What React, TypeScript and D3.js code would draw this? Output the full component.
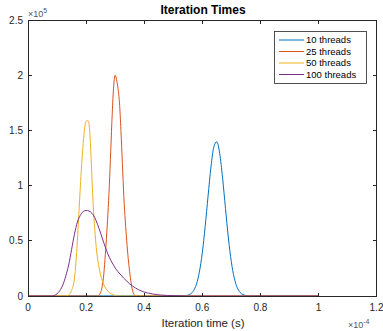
import React, { useRef, useEffect } from 'react'
import * as d3 from 'd3'

// x in units of 1e-4 s, y in units of 1e5
const seriesNames = ['10 threads', '25 threads', '50 threads', '100 threads']
const seriesColors = ['#0072BD', '#D95319', '#EDB120', '#7E2F8E']

const threads10: [number, number][] = [
  [0, 0], [0.54, 0.002], [0.56, 0.019], [0.57, 0.048], [0.58, 0.107], [0.59, 0.216],
  [0.6, 0.389], [0.61, 0.628], [0.62, 0.905], [0.63, 1.169], [0.64, 1.351], [0.65, 1.397],
  [0.66, 1.292], [0.67, 1.07], [0.68, 0.793], [0.69, 0.525], [0.7, 0.312], [0.71, 0.165],
  [0.72, 0.079], [0.73, 0.033], [0.74, 0.013], [0.76, 0.001], [1, 0]
]

const threads25: [number, number][] = [
  [0, 0], [0.24, 0], [0.25, 0.03], [0.255, 0.08], [0.26, 0.17], [0.265, 0.33], [0.27, 0.52],
  [0.275, 0.74], [0.28, 1.0], [0.285, 1.32], [0.29, 1.65], [0.295, 1.9], [0.3, 2.0],
  [0.305, 1.96], [0.31, 1.88], [0.315, 1.75], [0.32, 1.5], [0.325, 1.2], [0.33, 0.9],
  [0.335, 0.68], [0.34, 0.5], [0.345, 0.34], [0.35, 0.22], [0.355, 0.12], [0.36, 0.05],
  [0.365, 0.015], [0.37, 0], [1, 0]
]

const threads50: [number, number][] = [
  [0, 0], [0.13, 0], [0.14, 0.01], [0.15, 0.05], [0.16, 0.16], [0.165, 0.3], [0.17, 0.5],
  [0.175, 0.74], [0.18, 0.98], [0.185, 1.2], [0.19, 1.38], [0.195, 1.52], [0.2, 1.58],
  [0.205, 1.59], [0.21, 1.56], [0.215, 1.38], [0.22, 1.08], [0.225, 0.8], [0.23, 0.6],
  [0.235, 0.44], [0.24, 0.33], [0.25, 0.19], [0.26, 0.11], [0.27, 0.06], [0.28, 0.03],
  [0.29, 0.015], [0.3, 0.005], [0.31, 0], [1, 0]
]

const threads100: [number, number][] = [
  [0, 0], [0.08, 0], [0.09, 0.005], [0.1, 0.02], [0.11, 0.05], [0.12, 0.1], [0.13, 0.18],
  [0.14, 0.28], [0.15, 0.42], [0.16, 0.56], [0.17, 0.67], [0.18, 0.73], [0.19, 0.765],
  [0.2, 0.775], [0.21, 0.77], [0.22, 0.75], [0.23, 0.71], [0.24, 0.645], [0.25, 0.57],
  [0.26, 0.49], [0.27, 0.415], [0.28, 0.35], [0.29, 0.3], [0.3, 0.255], [0.31, 0.22],
  [0.32, 0.19], [0.33, 0.16], [0.34, 0.135], [0.35, 0.11], [0.36, 0.09], [0.38, 0.058],
  [0.4, 0.036], [0.43, 0.018], [0.46, 0.008], [0.5, 0.003], [0.55, 0], [1, 0]
]

const allSeries = [threads10, threads25, threads50, threads100]

const xTicks = [0, 0.2, 0.4, 0.6, 0.8, 1, 1.2]
const yTicks = [0, 0.5, 1, 1.5, 2, 2.5]

export default function App() {
  const ref = useRef<SVGSVGElement>(null)

  useEffect(() => {
    const width = 383
    const height = 331
    const left = 28, right = 376.5, top = 20, bottom = 296
    const axisColor = '#262626'
    const font = '"Liberation Sans", Arial, Helvetica, sans-serif'

    const svg = d3.select(ref.current)
    svg.selectAll('*').remove()
    svg.attr('width', width).attr('height', height)

    svg.append('rect').attr('width', width).attr('height', height).attr('fill', '#fff')

    const x = d3.scaleLinear().domain([0, 1.2]).range([left, right])
    const y = d3.scaleLinear().domain([0, 2.5]).range([bottom, top])

    // series
    const line = d3.line<[number, number]>()
      .x(d => x(d[0]))
      .y(d => y(d[1]))
      .curve(d3.curveMonotoneX)

    allSeries.forEach((s, i) => {
      svg.append('path')
        .attr('d', line(s))
        .attr('fill', 'none')
        .attr('stroke', seriesColors[i])
        .attr('stroke-width', 1)
    })

    // box + ticks
    const g = svg.append('g').attr('stroke', axisColor).attr('shape-rendering', 'crispEdges')
    g.append('rect')
      .attr('x', left).attr('y', top)
      .attr('width', right - left).attr('height', bottom - top)
      .attr('fill', 'none')
    const tl = 3.5
    xTicks.forEach(t => {
      g.append('line').attr('x1', x(t)).attr('x2', x(t)).attr('y1', bottom).attr('y2', bottom - tl)
      g.append('line').attr('x1', x(t)).attr('x2', x(t)).attr('y1', top).attr('y2', top + tl)
    })
    yTicks.forEach(t => {
      g.append('line').attr('x1', left).attr('x2', left + tl).attr('y1', y(t)).attr('y2', y(t))
      g.append('line').attr('x1', right).attr('x2', right - tl).attr('y1', y(t)).attr('y2', y(t))
    })

    const fmt = d3.format('')
    svg.append('g').selectAll('text').data(xTicks).join('text')
      .attr('x', d => x(d)).attr('y', bottom + 15)
      .attr('text-anchor', 'middle')
      .attr('font-family', font).attr('font-size', 10).attr('fill', axisColor)
      .text(d => fmt(d))

    svg.append('g').selectAll('text').data(yTicks).join('text')
      .attr('x', left - 5).attr('y', d => y(d) + 3.5)
      .attr('text-anchor', 'end')
      .attr('font-family', font).attr('font-size', 10).attr('fill', axisColor)
      .text(d => fmt(d))

    // exponents
    const e5 = svg.append('text')
      .attr('x', left).attr('y', top - 3)
      .attr('font-family', font).attr('font-size', 9).attr('fill', '#555')
    e5.append('tspan').text('×10')
    e5.append('tspan').attr('dy', -4).attr('font-size', 7).text('5')

    const e4 = svg.append('text')
      .attr('x', 348).attr('y', 328)
      .attr('font-family', font).attr('font-size', 9).attr('fill', '#555')
    e4.append('tspan').text('×10')
    e4.append('tspan').attr('dy', -4).attr('font-size', 7).text('-4')

    // title + label
    svg.append('text')
      .attr('x', 203).attr('y', 14)
      .attr('text-anchor', 'middle')
      .attr('font-family', font).attr('font-size', 12).attr('font-weight', 'bold').attr('fill', '#000')
      .text('Iteration Times')

    svg.append('text')
      .attr('x', 203).attr('y', 327)
      .attr('text-anchor', 'middle')
      .attr('font-family', font).attr('font-size', 11.5).attr('fill', axisColor)
      .text('Iteration time (s)')

    // legend
    const lg = svg.append('g')
    lg.append('rect')
      .attr('x', 274.5).attr('y', 31.5).attr('width', 92).attr('height', 52)
      .attr('fill', '#fff').attr('stroke', axisColor).attr('stroke-width', 0.8)
    seriesNames.forEach((name, i) => {
      const cy = 40 + i * 11.5
      lg.append('line')
        .attr('x1', 279).attr('x2', 304).attr('y1', cy).attr('y2', cy)
        .attr('stroke', seriesColors[i]).attr('stroke-width', 1)
      lg.append('text')
        .attr('x', 306).attr('y', cy + 3.2)
        .attr('font-family', font).attr('font-size', 9.5).attr('fill', '#000')
        .text(name)
    })
  }, [])

  return (
    <svg ref={ref} style={{ position: 'absolute', left: 0, top: 0, display: 'block' }} />
  )
}
